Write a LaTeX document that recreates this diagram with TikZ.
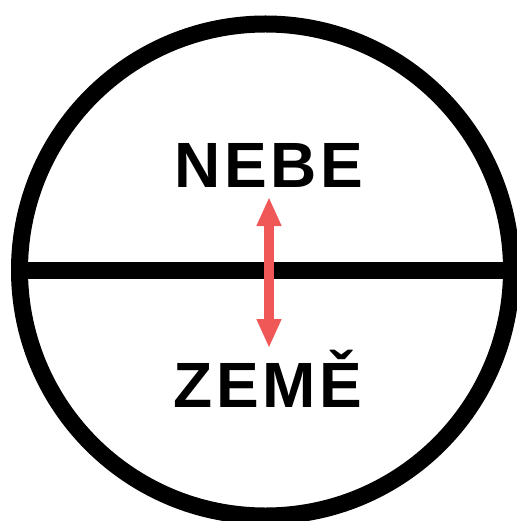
\documentclass[tikz,border=0pt]{standalone}
\usepackage{fontspec}
\setmainfont{Liberation Sans}
\definecolor{sipka}{HTML}{F05858}
\usetikzlibrary{arrows.meta, positioning}

\begin{document}
\begin{tikzpicture}[x=1pt, y=-1pt,
  obrys/.style={draw=black, line width=17pt},
  napis/.style={font=\fontsize{64}{64}\bfseries\addfontfeatures{LetterSpace=6}, inner sep=0pt},
  sipkaline/.style={draw=sipka, line width=10pt,
                    {Triangle[width=23pt,length=29pt]}-{Triangle[width=23pt,length=29pt]}},
]
\useasboundingbox (0,0) rectangle (516,521);
\node[obrys, circle, minimum size=492pt, inner sep=0pt] (svet) at (265.5,270) {};
\draw[obrys] (svet.west) -- (svet.east);
% popisky
\node[napis, anchor=base] (nebe) at (269,188) {NEBE};
\node[napis, anchor=base] (zeme) at (268,407) {ZEMĚ};
\coordinate (nahore) at (269,197);
\coordinate (dole) at (269,348);
\draw[sipkaline] (nahore) -- (dole);
\end{tikzpicture}
\end{document}
